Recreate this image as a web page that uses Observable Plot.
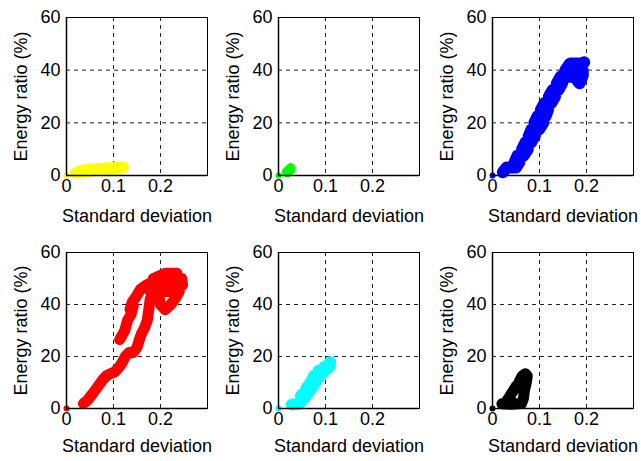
<!DOCTYPE html>
<html><head><meta charset="utf-8">
<script src="https://cdn.jsdelivr.net/npm/d3@7"></script>
<script src="https://cdn.jsdelivr.net/npm/@observablehq/plot@0.6"></script>
<style>
body{margin:0;background:#fff}
#chart{position:relative;width:641px;height:461px;background:#fff}
.p{position:absolute}
</style>
</head><body><div id="chart"></div>
<script>
// Axis ticks, grid and labels
const xTicks = [0, 0.1, 0.2];
const yTicks = [0, 20, 40, 60];
const xGrid = [0.1, 0.2];
const yGrid = [20, 40];
const xLabel = "Standard deviation";
const yLabel = "Energy ratio (%)";
const colors = ["#ffff00", "#00ff00", "#0000ff", "#ff0000", "#00ffff", "#000000"];

// Starting points (all series begin at the origin)
const originX = [0];
const originY = [0];

// Series traces (standard deviation, energy ratio %)
const yellowX = [0.019, 0.035, 0.055, 0.08, 0.1, 0.118, 0.121, 0.1, 0.08, 0.06, 0.04, 0.025];
const yellowY = [0.9, 1.4, 1.8, 2.1, 2.3, 2.7, 3.2, 3.0, 2.8, 2.6, 2.2, 1.6];

const greenX = [0.016, 0.02, 0.026, 0.027, 0.022, 0.019];
const greenY = [1.2, 2.0, 3.0, 2.2, 1.4, 1.0];

const blueX = [0.022, 0.03, 0.05, 0.057, 0.047, 0.053, 0.066, 0.075, 0.063, 0.07, 0.082, 0.09, 0.077, 0.083, 0.099, 0.108, 0.089, 0.096, 0.113, 0.118, 0.103, 0.111, 0.125, 0.133, 0.12, 0.128, 0.14, 0.148, 0.137, 0.145, 0.175, 0.185, 0.192, 0.192, 0.155, 0.165, 0.19, 0.195];
const blueY = [1.2, 3, 3, 5, 5, 7.5, 7.5, 10, 10, 12.5, 12.5, 15, 15, 17.5, 17.5, 20, 20, 22.5, 22.5, 25, 25, 27.5, 27.5, 30, 30, 32.5, 32.5, 35, 35, 37.5, 37.5, 35, 38, 40, 40, 42.5, 42.5, 43];

const redX = [0.036, 0.045, 0.058, 0.068, 0.076, 0.085, 0.095, 0.102, 0.11, 0.118, 0.125, 0.133, 0.142, 0.15, 0.155, 0.16, 0.166, 0.172, 0.175, 0.178, 0.185, 0.197, 0.2, 0.21, 0.222, 0.232, 0.24, 0.178, 0.17, 0.247, 0.245, 0.185, 0.21, 0.235, 0.2, 0.17, 0.158, 0.148, 0.14, 0.135, 0.142, 0.137, 0.13, 0.124, 0.118, 0.113];
const redY = [1.9, 3.2, 6.3, 8.8, 10.8, 12.6, 13.5, 14.0, 15.5, 17.5, 20.0, 21.5, 21.5, 23.5, 26.5, 29, 31, 34, 38, 42, 44, 42.5, 40, 38, 40, 42.5, 45, 45, 47.5, 47.5, 50, 50, 52, 52, 50, 47.5, 46, 43, 41, 38, 39.5, 36, 34, 30, 28, 26.5];

const cyanX = [0.028, 0.042, 0.05, 0.048, 0.058, 0.06, 0.072, 0.075, 0.08, 0.085, 0.092, 0.098, 0.105, 0.11, 0.108, 0.1, 0.09, 0.078, 0.065, 0.055, 0.045];
const cyanY = [1.5, 1.8, 3, 5, 6.5, 8, 11, 12.5, 11, 14.5, 14, 16, 16.5, 17.8, 16, 15, 13, 10, 6.5, 4, 2];

const blackX = [0.02, 0.04, 0.062, 0.066, 0.068, 0.072, 0.074, 0.07, 0.063, 0.056, 0.06, 0.065, 0.05, 0.045, 0.036, 0.03, 0.045];
const blackY = [1.8, 1.6, 1.9, 4, 7, 10, 12.5, 13.4, 12.5, 10, 8.5, 10, 8.5, 7, 4.5, 2.8, 2.2];

const seriesX = [yellowX, greenX, blueX, redX, cyanX, blackX];
const seriesY = [yellowY, greenY, blueY, redY, cyanY, blackY];
const widths = [11, 9, 12, 11, 12, 11];

const font = "'Liberation Sans', Arial, Helvetica, sans-serif";
const chart = document.getElementById("chart");
const lefts = [0, 212, 426];
const tops = [0, 235];

for (let i = 0; i < 6; i++) {
  const row = Math.floor(i / 3), col = i % 3;
  const data = seriesX[i].map((x, k) => ({x, y: seriesY[i][k]}));
  const origin = originX.map((x, k) => ({x, y: originY[k]}));
  const color = colors[i];
  const h = row === 0 ? 230 : 226;
  const mb = row === 0 ? 55 : 53;
  const plot = Plot.plot({
    width: 213,
    height: h,
    marginLeft: 66,
    marginRight: 6,
    marginTop: 17,
    marginBottom: mb,
    x: {domain: [0, 0.3]},
    y: {domain: [0, 60]},
    style: {fontFamily: font, fontSize: "18px", color: "black", background: "transparent", overflow: "visible"},
    marks: [
      Plot.ruleX(xGrid, {stroke: "#222", strokeWidth: 1, strokeDasharray: "4,4"}),
      Plot.ruleY(yGrid, {stroke: "#222", strokeWidth: 1, strokeDasharray: "4,4"}),
      Plot.line(data, {x: "x", y: "y", stroke: color, strokeWidth: widths[i], strokeLinecap: "round", strokeLinejoin: "round"}),
      Plot.dot(origin, {x: "x", y: "y", r: 3, fill: color, stroke: "none"}),
      Plot.frame({stroke: "black", strokeWidth: 1}),
      Plot.ruleX([0], {stroke: "black", strokeWidth: 1.5}),
      Plot.ruleY([0], {stroke: "black", strokeWidth: 1.5}),
      Plot.axisX({ticks: xTicks, tickSize: 0, tickPadding: 4, tickFormat: d => String(d), label: null, fontSize: 18}),
      Plot.axisY({ticks: yTicks, tickSize: 0, tickPadding: 6, tickFormat: d => String(d), label: null, fontSize: 18}),
      Plot.text([xLabel], {frameAnchor: "bottom", lineAnchor: "middle", textAnchor: "middle", dy: row === 0 ? 41 : 38, fontSize: 18, fill: "black"}),
      Plot.text([yLabel], {frameAnchor: "left", lineAnchor: "middle", textAnchor: "middle", rotate: -90, dx: -45, fontSize: 18, fill: "black"})
    ]
  });
  const div = document.createElement("div");
  div.className = "p";
  div.style.left = lefts[col] + "px";
  div.style.top = tops[row] + "px";
  div.appendChild(plot);
  chart.appendChild(div);
}
</script>
</body></html>
